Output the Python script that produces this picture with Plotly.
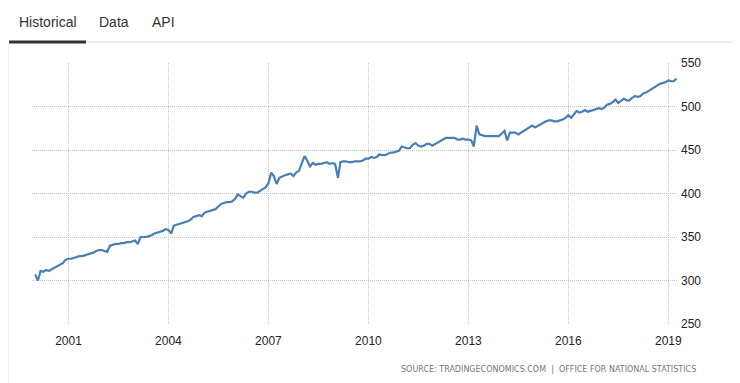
import plotly.graph_objects as go
import pandas as pd

start_month = "2000-01-01"
values = [
    # 2000
    307, 300, 311, 310, 312, 311, 313, 315, 317, 318, 320, 324,
    # 2001
    325, 325, 326, 327, 328, 328, 329, 330, 331, 332, 334, 335,
    # 2002
    335, 334, 333, 340, 341, 342, 342, 343, 343, 344, 344, 345,
    # 2003
    346, 342, 350, 350, 350, 351, 352, 354, 355, 356, 357, 359,
    # 2004
    358, 354, 363, 364, 365, 366, 367, 368, 370, 373, 374, 375,
    # 2005
    374, 378, 379, 380, 381, 382, 385, 388, 389, 390, 390, 391,
    # 2006
    394, 399, 397, 395, 400, 402, 402, 401, 401, 403, 405, 407,
    # 2007
    412, 424, 420, 411, 418, 420, 421, 422, 423, 420, 424, 426,
    # 2008
    435, 443, 438, 431, 435, 433, 434, 434, 435, 436, 434, 435,
    # 2009
    434, 418, 436, 437, 437, 436, 436, 437, 437, 437, 438, 440,
    # 2010
    440, 442, 441, 442, 445, 444, 444, 446, 447, 447, 448, 449,
    # 2011
    454, 453, 452, 452, 456, 458, 455, 454, 455, 457, 457, 455,
    # 2012
    457, 458, 460, 462, 464, 464, 464, 464, 462, 462, 463, 462,
    # 2013
    462, 461, 454, 478, 468, 467, 466, 466, 466, 466, 466, 466,
    # 2014
    469, 472, 461, 470, 470, 470, 468, 470, 472, 474, 476, 478,
    # 2015
    476, 478, 480, 481, 483, 484, 484, 483, 483, 484, 485, 487,
    # 2016
    490, 487, 491, 495, 493, 494, 496, 494, 495, 496, 497, 498,
    # 2017
    497, 499, 502, 503, 505, 508, 504, 506, 509, 507, 507, 510,
    # 2018
    512, 511, 512, 515, 516, 518, 520, 522, 524, 526, 527, 528,
    # 2019
    530, 529, 529, 532,
]
dates = pd.date_range(start_month, periods=len(values), freq="MS")

x_tick_years = [2001, 2004, 2007, 2010, 2013, 2016, 2019]
y_ticks = [250, 300, 350, 400, 450, 500, 550]
tabs = ["Historical", "Data", "API"]
source_text = "SOURCE: TRADINGECONOMICS.COM  |  OFFICE FOR NATIONAL STATISTICS"

# page body has an 8px default margin; the figure is sized to fit the window
OFF = 8
W, H = 740 - OFF, 383 - OFF
# plot area in window pixels: x 32..677, y 63..324
L, R, T, B = 32 - OFF, 740 - 677, 63 - OFF, 383 - 324
pw, ph = W - L - R, H - T - B

def px(xw):
    return (xw - OFF - L) / pw

def py(yw):
    return (H - B - (yw - OFF)) / ph

fig = go.Figure()
fig.add_trace(go.Scatter(
    x=dates, y=values, mode="lines",
    line=dict(color="#4a7fb3", width=2.2),
    hoverinfo="x+y", showlegend=False,
))

grid = dict(showgrid=True, gridcolor="#c4c4c4", griddash="1px,1px", gridwidth=1,
            zeroline=False, showline=False, ticks="")

fig.update_layout(
    width=W, height=H,
    margin=dict(l=L, r=R, t=T, b=B),
    paper_bgcolor="white", plot_bgcolor="white",
    font=dict(family="Liberation Sans, Arial", size=12, color="#333333"),
    xaxis=dict(
        type="date",
        range=["1999-11-28", "2019-04-06"],
        tickvals=[f"{y}-01-01" for y in x_tick_years],
        ticktext=[str(y) for y in x_tick_years],
        tickfont=dict(size=12, color="#222222"),
        ticklabelstandoff=8,
        **grid,
    ),
    yaxis=dict(
        range=[250, 550],
        side="right",
        tickvals=y_ticks,
        ticktext=[str(v) for v in y_ticks],
        tickfont=dict(size=12, color="#222222"),
        ticklabelstandoff=3,
        **grid,
    ),
)

shapes = [
    # gray separator under tabs
    dict(type="line", xref="paper", yref="paper", x0=px(9), x1=px(740),
         y0=py(42), y1=py(42), line=dict(color="#dddddd", width=1)),
    # active tab underline
    dict(type="line", xref="paper", yref="paper", x0=px(9), x1=px(86),
         y0=py(42), y1=py(42), line=dict(color="#333333", width=3)),
    # faint left border
    dict(type="line", xref="paper", yref="paper", x0=px(8.5), x1=px(8.5),
         y0=py(44), y1=py(383), line=dict(color="#f0f0f0", width=1)),
]
fig.update_layout(shapes=shapes)

tab_cx = [47.5, 113.5, 163.5]
for name, xx in zip(tabs, tab_cx):
    fig.add_annotation(
        text=name, xref="paper", yref="paper", x=px(xx), y=py(21.5),
        xanchor="center", yanchor="middle", showarrow=False,
        font=dict(family="Liberation Sans, Arial", size=14, color="#333333"),
    )

fig.add_annotation(
    text=source_text, xref="paper", yref="paper", x=px(698), y=py(369),
    xanchor="right", yanchor="middle", showarrow=False,
    font=dict(family="DejaVu Sans, Verdana", size=8, color="#777777"),
)

fig.write_html("out.html")
